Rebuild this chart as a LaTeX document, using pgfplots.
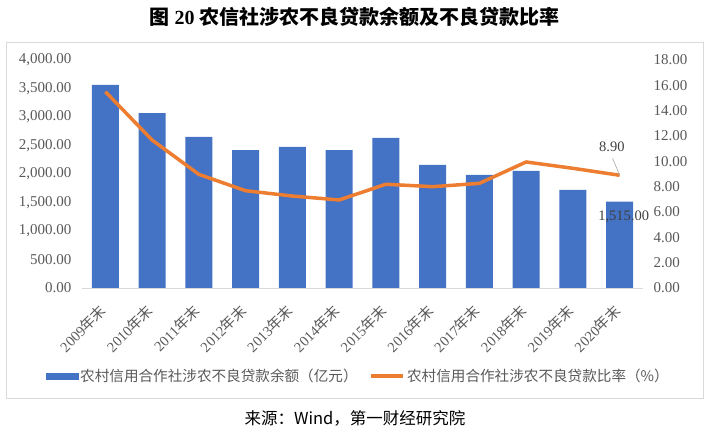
\documentclass[border=0pt]{standalone}
\usepackage{fontspec}
\setmainfont{Liberation Serif}
\newfontfamily\cjk{Noto Sans CJK SC}
\usepackage{pgfplots}
\usepackage{pgfplotstable}
\pgfplotsset{compat=1.18}

\definecolor{barblue}{HTML}{4472C4}
\definecolor{lineorange}{HTML}{ED7D31}
\definecolor{ticktext}{HTML}{595959}
\definecolor{framegray}{HTML}{D9D9D9}

% year index, balance (100 million yuan), ratio (%)
\pgfplotstableread{
x amount ratio
0  3565 15.50
1  3070 11.68
2  2650  8.97
3  2420  7.68
4  2475  7.26
5  2420  6.95
6  2632  8.19
7  2160  8.00
8  1983  8.26
9  2055  9.95
10 1720  9.45
11 1515  8.90
}\npldata

\pgfplotsset{
  common/.style={
    scale only axis,
    width=561bp, height=228bp,
    at={(82bp,153bp)}, anchor=south west,
    xmin=-0.5, xmax=11.5,
    clip=false,
    major tick length=0pt,
    scaled y ticks=false,
    y axis line style={draw=none},
    yticklabel style={
      /pgf/number format/.cd, fixed, fixed zerofill, precision=2,
      1000 sep={,}, assume math mode=true,
      /tikz/.cd, font=\fontsize{15bp}{17bp}\selectfont, text=ticktext
    },
  },
}

\begin{document}
\begin{tikzpicture}
\path[use as bounding box] (0,0) rectangle (709bp,441bp);
\draw[framegray, line width=0.8bp] (6bp,43bp) rectangle (703bp,399bp);

\node[font=\cjk\bfseries\fontsize{20bp}{22bp}\selectfont] at (354.5bp,424bp)
  {图 {\rmfamily\bfseries 20} 农信社涉农不良贷款余额及不良贷款比率};
\node[font=\cjk\fontsize{16.5bp}{18bp}\selectfont] at (355bp,23bp)
  {来源：Wind，第一财经研究院};

\begin{axis}[
  common,
  ymin=0, ymax=4000,
  ytick={0,500,...,4000},
  axis x line*=bottom, axis y line*=left,
  x axis line style={draw=framegray, line width=0.8bp},
  yticklabel style={xshift=-7bp},
  xtick={0,...,11},
  xticklabels={2009{\cjk 年末},2010{\cjk 年末},2011{\cjk 年末},2012{\cjk 年末},
    2013{\cjk 年末},2014{\cjk 年末},2015{\cjk 年末},2016{\cjk 年末},
    2017{\cjk 年末},2018{\cjk 年末},2019{\cjk 年末},2020{\cjk 年末}},
  xticklabel style={xshift=-2bp, yshift=-20bp, inner sep=0pt, rotate=45, anchor=east,
    font=\fontsize{14.5bp}{16bp}\selectfont, text=ticktext},
]
\addplot[ybar, bar width=27bp, fill=barblue, draw=none] table[x=x, y=amount] {\npldata};
\node[font=\fontsize{14.5bp}{16bp}\selectfont, text=black!75]
  at ([xshift=4bp, yshift=-15.4bp]axis cs:11,1515) {1,515.00};
\end{axis}

\begin{axis}[
  common,
  ymin=0, ymax=18,
  ytick={0,2,...,18},
  axis x line=none, axis y line*=right,
  yticklabel style={xshift=7bp},
  legend columns=2,
  legend style={at={(0.4925,-0.386)}, anchor=center, draw=none, fill=none,
    font=\cjk\fontsize{14.6bp}{16bp}\selectfont, text=ticktext,
    /tikz/every even column/.append style={column sep=10bp}},
  legend cell align=left,
]
\addlegendimage{legend image code/.code={\fill[barblue] (0bp,-3bp) rectangle (32bp,3bp);}}
\addlegendentry{农村信用合作社涉农不良贷款余额（亿元）}
\addplot[lineorange, line width=3.5bp, line join=round,
  legend image code/.code={\draw[lineorange, line width=3.5bp] (0bp,0bp) -- (32bp,0bp);}]
  table[x=x, y=ratio] {\npldata};
\addlegendentry{农村信用合作社涉农不良贷款比率（\%）}
\draw[gray!70, line width=0.6bp] ([xshift=-7bp, yshift=17bp]axis cs:11,8.9) -- (axis cs:11,8.9);
\node[font=\fontsize{14.5bp}{16bp}\selectfont, text=black!75]
  at ([xshift=-7.7bp, yshift=28.3bp]axis cs:11,8.9) {8.90};
\end{axis}
\end{tikzpicture}
\end{document}
